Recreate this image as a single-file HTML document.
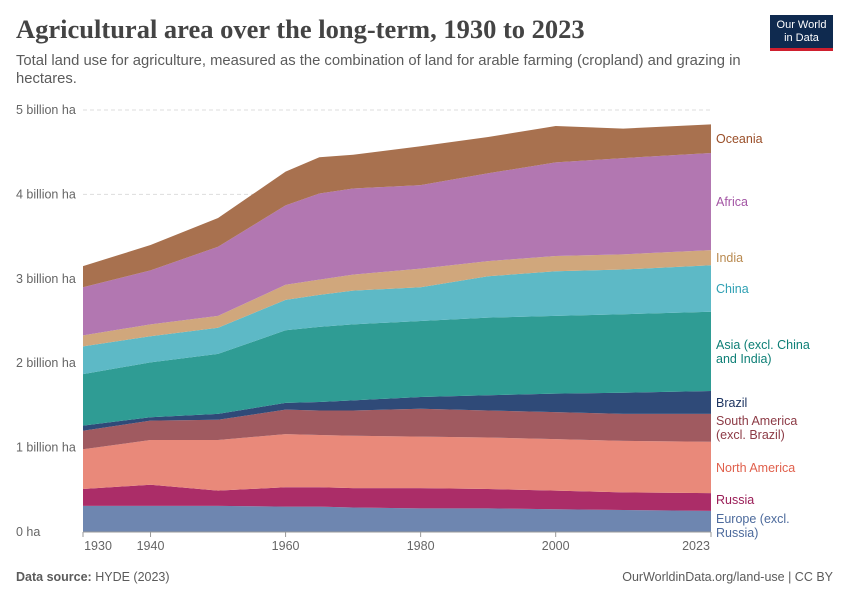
<!DOCTYPE html>
<html><head><meta charset="utf-8">
<style>
body{margin:0;background:#fff;font-family:"Liberation Sans",sans-serif;}
#wrap{position:relative;width:850px;height:600px;overflow:hidden;}
.title{position:absolute;left:16px;top:14px;font-family:"Liberation Serif",serif;font-size:26.5px;color:#444;font-weight:bold;white-space:nowrap;}
.sub{position:absolute;left:16px;top:52px;width:745px;font-size:14.8px;color:#5b5b5b;line-height:18px;}
.logo{position:absolute;left:770px;top:15px;width:63px;height:36px;background:#0f2a4f;border-bottom:3px solid #cf1f2e;color:#fff;font-size:11px;line-height:13px;text-align:center;padding-top:4px;box-sizing:border-box;}
.foot{position:absolute;top:570px;font-size:12.5px;color:#5b5b5b;}
</style></head><body>
<div id="wrap">
<div class="title">Agricultural area over the long-term, 1930 to 2023</div>
<div class="sub">Total land use for agriculture, measured as the combination of land for arable farming (cropland) and grazing in hectares.</div>
<div class="logo">Our World<br>in Data</div>
<svg id="chart" width="850" height="600" style="position:absolute;left:0;top:0"></svg>
<div class="foot" style="left:16px"><b>Data source:</b> HYDE (2023)</div>
<div class="foot" style="right:17px">OurWorldinData.org/land-use | CC BY</div>
</div>
<script>
const years=[1930,1940,1950,1960,1965,1970,1980,1990,2000,2010,2023];
const europe=[0.31,0.31,0.31,0.30,0.30,0.29,0.28,0.28,0.27,0.26,0.25];
const russia=[0.20,0.25,0.18,0.23,0.23,0.23,0.24,0.23,0.22,0.21,0.21];
const northAmerica=[0.47,0.53,0.60,0.63,0.62,0.62,0.61,0.61,0.61,0.61,0.61];
const southAmerica=[0.22,0.23,0.24,0.29,0.29,0.30,0.33,0.32,0.32,0.32,0.33];
const brazil=[0.06,0.04,0.07,0.08,0.10,0.12,0.14,0.18,0.22,0.25,0.27];
const asia=[0.61,0.65,0.71,0.86,0.89,0.90,0.90,0.92,0.92,0.93,0.94];
const china=[0.33,0.31,0.31,0.36,0.38,0.40,0.40,0.49,0.53,0.53,0.55];
const india=[0.13,0.14,0.14,0.18,0.18,0.19,0.22,0.18,0.18,0.18,0.18];
const africa=[0.57,0.64,0.82,0.94,1.02,1.02,0.99,1.04,1.11,1.14,1.15];
const oceania=[0.25,0.30,0.34,0.40,0.43,0.40,0.46,0.43,0.43,0.35,0.34];
const yTicks=[0,1,2,3,4,5];
const yTickLabels=["0 ha","1 billion ha","2 billion ha","3 billion ha","4 billion ha","5 billion ha"];
const xTicks=[1930,1940,1960,1980,2000,2023];

const series=[
 {name:"Europe (excl. Russia)",v:europe,c:"#6e86b0",t:"#4c6a9c",l:["Europe (excl.","Russia)"],ly:526},
 {name:"Russia",v:russia,c:"#ab2d68",t:"#9a1d57",l:["Russia"],ly:500},
 {name:"North America",v:northAmerica,c:"#e9897a",t:"#e0604c",l:["North America"],ly:468},
 {name:"South America",v:southAmerica,c:"#a05a60",t:"#8c3a45",l:["South America","(excl. Brazil)"],ly:428},
 {name:"Brazil",v:brazil,c:"#2f4a78",t:"#1d3461",l:["Brazil"],ly:403},
 {name:"Asia",v:asia,c:"#2f9c94",t:"#0d7f76",l:["Asia (excl. China","and India)"],ly:352},
 {name:"China",v:china,c:"#5db9c6",t:"#2fa0b3",l:["China"],ly:289},
 {name:"India",v:india,c:"#d0a77c",t:"#b98a50",l:["India"],ly:258},
 {name:"Africa",v:africa,c:"#b277b1",t:"#a355a4",l:["Africa"],ly:202},
 {name:"Oceania",v:oceania,c:"#a8714f",t:"#9a4f29",l:["Oceania"],ly:139}
];
const X0=83,X1=711,Y0=532,Y1=110;
const x=yr=>X0+(yr-years[0])/(2023-1930)*(X1-X0);
const y=v=>Y0-v/5*(Y0-Y1);
const svg=document.getElementById('chart');
const NS="http://www.w3.org/2000/svg";
function mk(t,a){const e=document.createElementNS(NS,t);for(const k in a)e.setAttribute(k,a[k]);svg.appendChild(e);return e;}
yTicks.forEach((t,i)=>{
 if(t>0){const g=mk('line',{x1:X0,x2:X1,y1:y(t),y2:y(t),stroke:'#ddd','stroke-dasharray':'4,3'});
 
 }
 const tx=mk('text',{x:16,y:y(t)+4,'font-size':12.5,fill:'#666','font-family':'Liberation Sans'});
 tx.textContent=yTickLabels[i];
 
 
});
let base=years.map(()=>0);
series.forEach(s=>{
 const top=base.map((b,i)=>b+s.v[i]);
 let d="M"+years.map((yr,i)=>x(yr)+","+y(top[i])).join("L");
 for(let i=years.length-1;i>=0;i--)d+="L"+x(years[i])+","+y(base[i]);
 const p=mk('path',{d:d+"Z",fill:s.c});
 
 
 const ly=s.ly+4-(s.l.length-1)*7;
 s.l.forEach((line,j)=>{
  const t=mk('text',{x:716,y:ly+j*14,'font-size':12.5,fill:s.t,'font-family':'Liberation Sans'});
  t.textContent=line;
  
  
 });
 base=top;
});
const ax=mk('line',{x1:X0,x2:X1,y1:Y0,y2:Y0,stroke:'#999'});


xTicks.forEach((t,i)=>{
 const tk=mk('line',{x1:x(t),x2:x(t),y1:Y0,y2:Y0+5,stroke:'#999'});
 
 
 let px=x(t),anchor='middle';
 if(i===0){px=x(t)+15;} if(i===xTicks.length-1){px=x(t)-15;}
 const tx=mk('text',{x:px,y:Y0+18,'font-size':12.5,fill:'#666','text-anchor':anchor,'font-family':'Liberation Sans'});
 tx.textContent=t;
 
 
});
</script>
</body></html>
